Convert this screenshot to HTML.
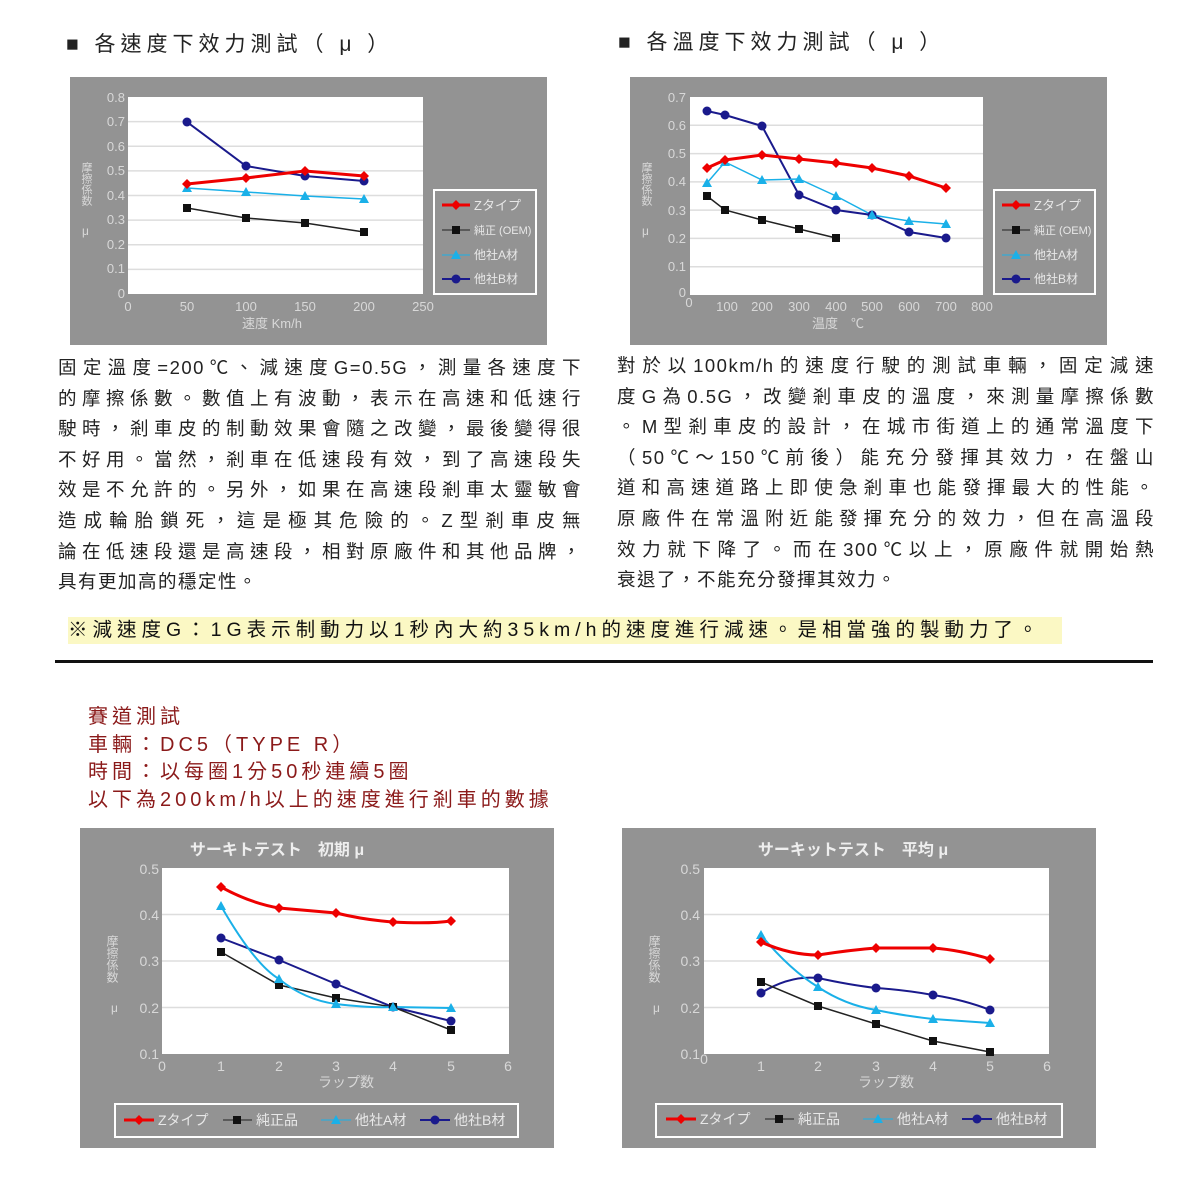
<!DOCTYPE html>
<html><head><meta charset="utf-8"><style>
body{margin:0;width:1200px;height:1200px;background:#fff;position:relative;font-family:"Liberation Sans","Noto Sans CJK TC",sans-serif;overflow:hidden}
.a{position:absolute;white-space:nowrap}
.h{font-size:21px;letter-spacing:5px;color:#222}
.p{position:absolute;font-size:18.5px;color:#222;letter-spacing:1.5px;line-height:30.6px}
.p div{text-align:justify;text-align-last:justify;white-space:nowrap;height:30.6px}
.p div.l{text-align-last:left}
.r{font-size:20px;color:#8b1a1a;letter-spacing:4px;left:88px}
svg{position:absolute;left:0;top:0}
</style></head><body>
<div class="a h" style="left:66px;top:28px">■ 各速度下效力測試（ μ ）</div>
<div class="a h" style="left:618px;top:26px">■ 各溫度下效力測試（ μ ）</div>
<div class="p" style="left:58px;top:353px;width:524px">
<div>固定溫度=200℃、減速度G=0.5G，測量各速度下</div>
<div>的摩擦係數。數值上有波動，表示在高速和低速行</div>
<div>駛時，剎車皮的制動效果會隨之改變，最後變得很</div>
<div>不好用。當然，剎車在低速段有效，到了高速段失</div>
<div>效是不允許的。另外，如果在高速段剎車太靈敏會</div>
<div>造成輪胎鎖死，這是極其危險的。Z型剎車皮無</div>
<div>論在低速段還是高速段，相對原廠件和其他品牌，</div>
<div class="l">具有更加高的穩定性。</div>
</div>
<div class="p" style="left:617px;top:351px;width:538px">
<div>對於以100km/h的速度行駛的測試車輛，固定減速</div>
<div>度G為0.5G，改變剎車皮的溫度，來測量摩擦係數</div>
<div>。M型剎車皮的設計，在城市街道上的通常溫度下</div>
<div>（50℃～150℃前後）能充分發揮其效力，在盤山</div>
<div>道和高速道路上即使急剎車也能發揮最大的性能。</div>
<div>原廠件在常溫附近能發揮充分的效力，但在高溫段</div>
<div>效力就下降了。而在300℃以上，原廠件就開始熱</div>
<div class="l">衰退了，不能充分發揮其效力。</div>
</div>
<div class="a" style="left:68px;top:617px;width:994px;height:27px;background:#fbf8c4;font-size:19.5px;letter-spacing:5px;line-height:27px;color:#111">※減速度G：1G表示制動力以1秒內大約35km/h的速度進行減速。是相當強的製動力了。</div>
<div class="a" style="left:55px;top:660px;width:1098px;height:3px;background:#111"></div>
<div class="a r" style="top:700px">賽道測試</div>
<div class="a r" style="top:728px">車輛：DC5（TYPE R）</div>
<div class="a r" style="top:755px">時間：以每圈1分50秒連續5圈</div>
<div class="a r" style="top:783px">以下為200km/h以上的速度進行剎車的數據</div>

<svg width="1200" height="1200" font-family="Liberation Sans,Noto Sans CJK JP,sans-serif">
<defs>
<g id="dr"><path d="M-5 0L0-5L5 0L0 5Z" fill="#e00"/></g>
<g id="sq"><rect x="-4" y="-4" width="8" height="8" fill="#111"/></g>
<g id="tr"><path d="M0-5L5 4H-5Z" fill="#1ab0e8"/></g>
<g id="ci"><circle r="4.5" fill="#1a1a8c"/></g>
</defs>
<!-- chart 1 -->
<rect x="70" y="77" width="477" height="268" fill="#939393"/>
<rect x="128" y="97" width="295" height="197" fill="#fff"/>
<g stroke="#ddd" stroke-width="1.5"><line x1="128" x2="423" y1="121.6" y2="121.6"/><line x1="128" x2="423" y1="146.2" y2="146.2"/><line x1="128" x2="423" y1="170.9" y2="170.9"/><line x1="128" x2="423" y1="195.5" y2="195.5"/><line x1="128" x2="423" y1="220.1" y2="220.1"/><line x1="128" x2="423" y1="244.7" y2="244.7"/><line x1="128" x2="423" y1="269.4" y2="269.4"/></g>
<g fill="#d8d8d8" font-size="13" text-anchor="end"><text x="125" y="102">0.8</text><text x="125" y="126">0.7</text><text x="125" y="151">0.6</text><text x="125" y="175">0.5</text><text x="125" y="200">0.4</text><text x="125" y="224">0.3</text><text x="125" y="249">0.2</text><text x="125" y="273">0.1</text><text x="125" y="298">0</text></g>
<g fill="#d8d8d8" font-size="13" text-anchor="middle"><text x="128" y="311">0</text><text x="187" y="311">50</text><text x="246" y="311">100</text><text x="305" y="311">150</text><text x="364" y="311">200</text><text x="423" y="311">250</text><text x="272" y="328">速度 Km/h</text></g>
<text x="86" y="162" fill="#d8d8d8" font-size="11" writing-mode="tb">摩擦係数</text><text x="82" y="235" fill="#d8d8d8" font-size="12">μ</text>
<polyline points="187,122 246,166 305,176 364,181" fill="none" stroke="#1a1a8c" stroke-width="2"/>
<polyline points="187,208 246,218 305,223 364,232" fill="none" stroke="#222" stroke-width="1.5"/>
<polyline points="187,188 246,192 305,196 364,199" fill="none" stroke="#1ab0e8" stroke-width="1.5"/>
<polyline points="187,184 246,178 305,171 364,176" fill="none" stroke="#e00" stroke-width="3"/>
<use href="#ci" x="187" y="122"/><use href="#ci" x="246" y="166"/><use href="#ci" x="305" y="176"/><use href="#ci" x="364" y="181"/>
<use href="#sq" x="187" y="208"/><use href="#sq" x="246" y="218"/><use href="#sq" x="305" y="223"/><use href="#sq" x="364" y="232"/>
<use href="#tr" x="187" y="188"/><use href="#tr" x="246" y="192"/><use href="#tr" x="305" y="196"/><use href="#tr" x="364" y="199"/>
<use href="#dr" x="187" y="184"/><use href="#dr" x="246" y="178"/><use href="#dr" x="305" y="171"/><use href="#dr" x="364" y="176"/>
<rect x="434" y="190" width="102" height="104" fill="none" stroke="#fff" stroke-width="2"/>
<g font-size="12" fill="#e8e8e8">
<line x1="442" x2="470" y1="205" y2="205" stroke="#e00" stroke-width="3"/><use href="#dr" x="456" y="205"/><text x="474" y="210" font-size="13">Zタイプ</text>
<line x1="442" x2="470" y1="230" y2="230" stroke="#222"/><use href="#sq" x="456" y="230"/><text x="474" y="234" font-size="11">純正 (OEM)</text>
<line x1="442" x2="470" y1="255" y2="255" stroke="#1ab0e8"/><use href="#tr" x="456" y="255"/><text x="474" y="259">他社A材</text>
<line x1="442" x2="470" y1="279" y2="279" stroke="#1a1a8c" stroke-width="2"/><use href="#ci" x="456" y="279"/><text x="474" y="283">他社B材</text></g>

<!-- chart 2 -->
<rect x="630" y="77" width="477" height="268" fill="#939393"/>
<rect x="690" y="97" width="293" height="198" fill="#fff"/>
<g stroke="#ddd" stroke-width="1.5"><line x1="690" x2="983" y1="125.3" y2="125.3"/><line x1="690" x2="983" y1="153.6" y2="153.6"/><line x1="690" x2="983" y1="181.9" y2="181.9"/><line x1="690" x2="983" y1="210.1" y2="210.1"/><line x1="690" x2="983" y1="238.4" y2="238.4"/><line x1="690" x2="983" y1="266.7" y2="266.7"/></g>
<g fill="#d8d8d8" font-size="13" text-anchor="end"><text x="686" y="102">0.7</text><text x="686" y="130">0.6</text><text x="686" y="158">0.5</text><text x="686" y="186">0.4</text><text x="686" y="215">0.3</text><text x="686" y="243">0.2</text><text x="686" y="271">0.1</text><text x="686" y="297">0</text></g>
<g fill="#d8d8d8" font-size="13" text-anchor="middle"><text x="689" y="307">0</text><text x="727" y="311">100</text><text x="762" y="311">200</text><text x="799" y="311">300</text><text x="836" y="311">400</text><text x="872" y="311">500</text><text x="909" y="311">600</text><text x="946" y="311">700</text><text x="982" y="311">800</text><text x="838" y="328">温度　℃</text></g>
<text x="646" y="162" fill="#d8d8d8" font-size="11" writing-mode="tb">摩擦係数</text><text x="642" y="235" fill="#d8d8d8" font-size="12">μ</text>
<polyline points="707,111 725,115 762,126 799,195 836,210 872,215 909,232 946,238" fill="none" stroke="#1a1a8c" stroke-width="2"/>
<polyline points="707,196 725,210 762,220 799,229 836,238" fill="none" stroke="#222" stroke-width="1.5"/>
<polyline points="707,183 725,162 762,180 799,179 836,196 872,215 909,221 946,224" fill="none" stroke="#1ab0e8" stroke-width="1.5"/>
<polyline points="707,168 725,160 762,155 799,159 836,163 872,168 909,176 946,188" fill="none" stroke="#e00" stroke-width="3"/>
<use href="#ci" x="707" y="111"/><use href="#ci" x="725" y="115"/><use href="#ci" x="762" y="126"/><use href="#ci" x="799" y="195"/><use href="#ci" x="836" y="210"/><use href="#ci" x="872" y="215"/><use href="#ci" x="909" y="232"/><use href="#ci" x="946" y="238"/>
<use href="#sq" x="707" y="196"/><use href="#sq" x="725" y="210"/><use href="#sq" x="762" y="220"/><use href="#sq" x="799" y="229"/><use href="#sq" x="836" y="238"/>
<use href="#tr" x="707" y="183"/><use href="#tr" x="725" y="162"/><use href="#tr" x="762" y="180"/><use href="#tr" x="799" y="179"/><use href="#tr" x="836" y="196"/><use href="#tr" x="872" y="215"/><use href="#tr" x="909" y="221"/><use href="#tr" x="946" y="224"/>
<use href="#dr" x="707" y="168"/><use href="#dr" x="725" y="160"/><use href="#dr" x="762" y="155"/><use href="#dr" x="799" y="159"/><use href="#dr" x="836" y="163"/><use href="#dr" x="872" y="168"/><use href="#dr" x="909" y="176"/><use href="#dr" x="946" y="188"/>
<rect x="994" y="190" width="101" height="104" fill="none" stroke="#fff" stroke-width="2"/>
<g font-size="12" fill="#e8e8e8">
<line x1="1002" x2="1030" y1="205" y2="205" stroke="#e00" stroke-width="3"/><use href="#dr" x="1016" y="205"/><text x="1034" y="210" font-size="13">Zタイプ</text>
<line x1="1002" x2="1030" y1="230" y2="230" stroke="#222"/><use href="#sq" x="1016" y="230"/><text x="1034" y="234" font-size="11">純正 (OEM)</text>
<line x1="1002" x2="1030" y1="255" y2="255" stroke="#1ab0e8"/><use href="#tr" x="1016" y="255"/><text x="1034" y="259">他社A材</text>
<line x1="1002" x2="1030" y1="279" y2="279" stroke="#1a1a8c" stroke-width="2"/><use href="#ci" x="1016" y="279"/><text x="1034" y="283">他社B材</text></g>

<!-- chart 3 -->
<rect x="80" y="828" width="474" height="320" fill="#939393"/>
<text x="277" y="855" fill="#eee" font-size="16" font-weight="bold" text-anchor="middle">サーキトテスト　初期 μ</text>
<rect x="162" y="868" width="347" height="186" fill="#fff"/>
<g stroke="#ddd" stroke-width="1.5"><line x1="162" x2="509" y1="914.5" y2="914.5"/><line x1="162" x2="509" y1="961" y2="961"/><line x1="162" x2="509" y1="1007.5" y2="1007.5"/></g>
<g fill="#d8d8d8" font-size="14" text-anchor="end"><text x="159" y="874">0.5</text><text x="159" y="920">0.4</text><text x="159" y="966">0.3</text><text x="159" y="1013">0.2</text><text x="159" y="1059">0.1</text></g>
<g fill="#d8d8d8" font-size="14" text-anchor="middle"><text x="162" y="1071">0</text><text x="221" y="1071">1</text><text x="279" y="1071">2</text><text x="336" y="1071">3</text><text x="393" y="1071">4</text><text x="451" y="1071">5</text><text x="508" y="1071">6</text><text x="346" y="1087">ラップ数</text></g>
<text x="112" y="935" fill="#d8d8d8" font-size="12" writing-mode="tb">摩擦係数</text><text x="111" y="1012" fill="#d8d8d8" font-size="12">μ</text>
<path d="M221,938 L279,960 L336,984 L393,1007 L451,1021" fill="none" stroke="#1a1a8c" stroke-width="2"/>
<path d="M221,952 L279,985 L336,998 L393,1007 L451,1030" fill="none" stroke="#222" stroke-width="1.5"/>
<path d="M221,906 Q255,965 279,979 Q305,1000 336,1004 Q370,1008 393,1007 L451,1008" fill="none" stroke="#1ab0e8" stroke-width="2"/>
<path d="M221,887 Q250,903 279,908 L336,913 Q365,920 393,922 Q430,924 451,921" fill="none" stroke="#e00" stroke-width="3"/>
<use href="#ci" x="221" y="938"/><use href="#ci" x="279" y="960"/><use href="#ci" x="336" y="984"/><use href="#ci" x="393" y="1007"/><use href="#ci" x="451" y="1021"/>
<use href="#sq" x="221" y="952"/><use href="#sq" x="279" y="985"/><use href="#sq" x="336" y="998"/><use href="#sq" x="393" y="1007"/><use href="#sq" x="451" y="1030"/>
<use href="#tr" x="221" y="906"/><use href="#tr" x="279" y="979"/><use href="#tr" x="336" y="1004"/><use href="#tr" x="393" y="1007"/><use href="#tr" x="451" y="1008"/>
<use href="#dr" x="221" y="887"/><use href="#dr" x="279" y="908"/><use href="#dr" x="336" y="913"/><use href="#dr" x="393" y="922"/><use href="#dr" x="451" y="921"/>
<rect x="115" y="1104" width="403" height="33" fill="none" stroke="#fff" stroke-width="2"/>
<g font-size="14" fill="#e8e8e8">
<line x1="124" x2="154" y1="1120" y2="1120" stroke="#e00" stroke-width="3"/><use href="#dr" x="139" y="1120"/><text x="158" y="1125">Zタイプ</text>
<line x1="223" x2="252" y1="1120" y2="1120" stroke="#222"/><use href="#sq" x="237" y="1120"/><text x="256" y="1125">純正品</text>
<line x1="321" x2="351" y1="1120" y2="1120" stroke="#1ab0e8"/><use href="#tr" x="336" y="1120"/><text x="355" y="1125">他社A材</text>
<line x1="420" x2="450" y1="1120" y2="1120" stroke="#1a1a8c" stroke-width="2"/><use href="#ci" x="435" y="1120"/><text x="454" y="1125">他社B材</text></g>

<!-- chart 4 -->
<rect x="622" y="828" width="474" height="320" fill="#939393"/>
<text x="853" y="855" fill="#eee" font-size="16" font-weight="bold" text-anchor="middle">サーキットテスト　平均 μ</text>
<rect x="704" y="868" width="345" height="186" fill="#fff"/>
<g stroke="#ddd" stroke-width="1.5"><line x1="704" x2="1049" y1="914.5" y2="914.5"/><line x1="704" x2="1049" y1="961" y2="961"/><line x1="704" x2="1049" y1="1007.5" y2="1007.5"/></g>
<g fill="#d8d8d8" font-size="14" text-anchor="end"><text x="700" y="874">0.5</text><text x="700" y="920">0.4</text><text x="700" y="966">0.3</text><text x="700" y="1013">0.2</text><text x="700" y="1059">0.1</text></g>
<g fill="#d8d8d8" font-size="14" text-anchor="middle"><text x="704" y="1064">0</text><text x="761" y="1071">1</text><text x="818" y="1071">2</text><text x="876" y="1071">3</text><text x="933" y="1071">4</text><text x="990" y="1071">5</text><text x="1047" y="1071">6</text><text x="886" y="1087">ラップ数</text></g>
<text x="654" y="935" fill="#d8d8d8" font-size="12" writing-mode="tb">摩擦係数</text><text x="653" y="1012" fill="#d8d8d8" font-size="12">μ</text>
<path d="M761,993 Q790,975 818,978 Q850,985 876,988 Q905,990 933,995 Q965,1000 990,1010" fill="none" stroke="#1a1a8c" stroke-width="2"/>
<path d="M761,982 L818,1006 L876,1024 L933,1041 L990,1052" fill="none" stroke="#222" stroke-width="1.5"/>
<path d="M761,935 Q790,970 818,987 Q845,1005 876,1010 Q905,1016 933,1019 L990,1023" fill="none" stroke="#1ab0e8" stroke-width="2"/>
<path d="M761,942 Q790,955 818,955 Q850,950 876,948 L933,948 Q960,950 990,959" fill="none" stroke="#e00" stroke-width="3"/>
<use href="#ci" x="761" y="993"/><use href="#ci" x="818" y="978"/><use href="#ci" x="876" y="988"/><use href="#ci" x="933" y="995"/><use href="#ci" x="990" y="1010"/>
<use href="#sq" x="761" y="982"/><use href="#sq" x="818" y="1006"/><use href="#sq" x="876" y="1024"/><use href="#sq" x="933" y="1041"/><use href="#sq" x="990" y="1052"/>
<use href="#tr" x="761" y="935"/><use href="#tr" x="818" y="987"/><use href="#tr" x="876" y="1010"/><use href="#tr" x="933" y="1019"/><use href="#tr" x="990" y="1023"/>
<use href="#dr" x="761" y="942"/><use href="#dr" x="818" y="955"/><use href="#dr" x="876" y="948"/><use href="#dr" x="933" y="948"/><use href="#dr" x="990" y="959"/>
<rect x="656" y="1104" width="406" height="33" fill="none" stroke="#fff" stroke-width="2"/>
<g font-size="14" fill="#e8e8e8">
<line x1="666" x2="696" y1="1119" y2="1119" stroke="#e00" stroke-width="3"/><use href="#dr" x="681" y="1119"/><text x="700" y="1124">Zタイプ</text>
<line x1="765" x2="794" y1="1119" y2="1119" stroke="#222"/><use href="#sq" x="779" y="1119"/><text x="798" y="1124">純正品</text>
<line x1="863" x2="893" y1="1119" y2="1119" stroke="#1ab0e8"/><use href="#tr" x="878" y="1119"/><text x="897" y="1124">他社A材</text>
<line x1="962" x2="992" y1="1119" y2="1119" stroke="#1a1a8c" stroke-width="2"/><use href="#ci" x="977" y="1119"/><text x="996" y="1124">他社B材</text></g>
</svg>
</body></html>
